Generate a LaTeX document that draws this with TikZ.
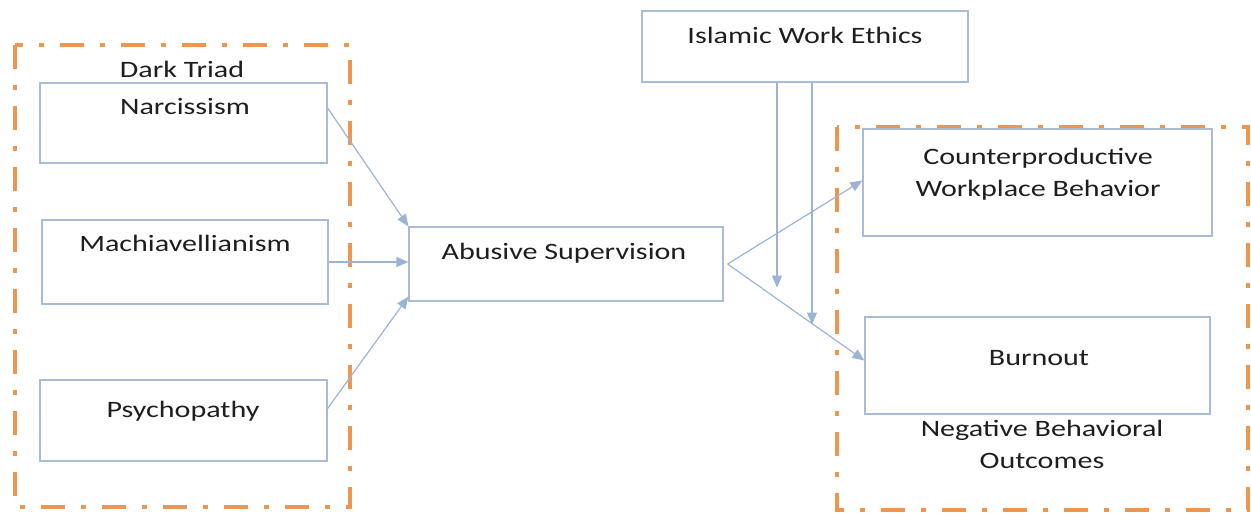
\documentclass[tikz,border=0pt]{standalone}
\usepackage{fontspec}
\setmainfont{Carlito}[FakeStretch=1.28]
\usetikzlibrary{arrows.meta,calc}

\definecolor{boxline}{RGB}{168,188,216}
\definecolor{linkline}{RGB}{155,180,214}
\definecolor{groupline}{RGB}{238,150,80}
\definecolor{txt}{RGB}{30,30,30}

\tikzset{
  box/.style={draw=boxline, line width=1.2pt, inner sep=0pt},
  lbl/.style={text=txt, anchor=base, align=center, inner sep=0pt,
    font=\fontsize{23.5}{32}\selectfont},
  link/.style={draw=linkline, line width=1.2pt,
    -{Triangle[length=12pt,width=10pt]}},
  group/.style={draw=groupline, line width=4pt,
    dash pattern=on 24pt off 16pt on 5pt off 16pt}
}

\begin{document}
\begin{tikzpicture}[x=1pt,y=-1pt]
    \useasboundingbox (0,0) rectangle (1251,513);

    % Grupos
    \draw[group] (15,45) rectangle (350,507);
    \draw[group] (837,127) rectangle (1248,510);

    % Cajas
    \node[box, minimum width=287pt, minimum height=80pt] (narc) at (183.5,123) {};
    \node[box, minimum width=286pt, minimum height=84pt] (mach) at (185,262) {};
    \node[box, minimum width=287pt, minimum height=81pt] (psych) at (183.5,420.5) {};
    \node[box, minimum width=314pt, minimum height=74pt] (abuse) at (566,264) {};
    \node[box, minimum width=326pt, minimum height=71pt] (ethics) at (805,46.5) {};
    \node[box, minimum width=349pt, minimum height=107pt] (cwb) at (1037.5,182.5) {};
    \node[box, minimum width=345pt, minimum height=97pt] (burn) at (1037.5,365.5) {};

    % Textos
    \node[lbl] (dark) at (182,78) {Dark Triad};
    \node[lbl] (narctxt) at (185,115) {Narcissism};
    \node[lbl] (machtxt) at (185,252) {Machiavellianism};
    \node[lbl] (psychtxt) at (183,417) {Psychopathy};
    \node[lbl] (abusetxt) at (564,260) {Abusive Supervision};
    \node[lbl] (ethicstxt) at (805,44) {Islamic Work Ethics};
    \node[lbl] (cwbtxt) at (1038,197) {Counterproductive\\Workplace Behavior};
    \node[lbl] (burntxt) at (1039,365) {Burnout};
    \node[lbl] (negtxt) at (1042,468) {Negative Behavioral\\Outcomes};

    % Flechas de entrada
    \draw[link] ([yshift=15pt]narc.east) -- (abuse.north west);
    \draw[link] (mach.east) -- (mach.east -| abuse.west);
    \draw[link] ([yshift=12pt]psych.east) -- ([yshift=5pt]abuse.south west);

    % Flechas de salida
    \coordinate (split) at ([xshift=4pt]abuse.east);
    \draw[link] (split) -- ([yshift=2pt]cwb.west);
    \draw[link] (split) -- ([yshift=5pt]burn.west);

    % Moderador
    \draw[link] ([xshift=-28pt]ethics.south) -- ++(0,205);
    \draw[link] ([xshift=7pt]ethics.south) -- ++(0,242);
\end{tikzpicture}
\end{document}
